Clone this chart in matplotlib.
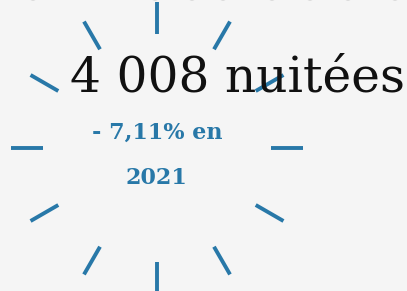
import numpy as np
import matplotlib
matplotlib.use("Agg")
import matplotlib.pyplot as plt

# Data
tick_angles_deg = list(range(0, 360, 30))   # radial tick marks (clock face)
main_value = "4 008"
main_unit = "nuitées"
change_label = "- 7,11% en"
year_label = "2021"
# top-edge partial marks (x positions of cut-off glyph bottoms)
top_marks_x = [33, 155, 192, 223, 272, 310, 348, 395]

BG = "#f5f5f5"
BLUE = "#2878a8"

W, H = 407, 291
fig = plt.figure(figsize=(W / 100, H / 100), dpi=100, facecolor=BG)
ax = fig.add_axes([0, 0, 1, 1])
ax.set_xlim(0, W)
ax.set_ylim(H, 0)
ax.axis("off")
ax.set_facecolor(BG)

cx, cy = 157, 148
r_in, r_out = 114, 146
for a in tick_angles_deg:
    t = np.deg2rad(a)
    xs = [cx + r_in * np.sin(t), cx + r_out * np.sin(t)]
    ys = [cy - r_in * np.cos(t), cy - r_out * np.cos(t)]
    ax.plot(xs, ys, color=BLUE, lw=2.8, solid_capstyle="butt", zorder=1)

for x in top_marks_x:
    ax.add_patch(matplotlib.patches.Ellipse((x, -2.0), 8, 5, color="#c4c4c4", lw=0, zorder=1))

ax.text(70, 92, f"{main_value} {main_unit}", fontsize=35, family="DejaVu Serif",
        color="#111111", ha="left", va="baseline", zorder=3)

ax.text(157, 139, change_label, fontsize=16.0, family="DejaVu Serif", weight="bold",
        color=BLUE, ha="center", va="baseline", zorder=3)
ax.text(156, 184, year_label, fontsize=16.0, family="DejaVu Serif", weight="bold",
        color=BLUE, ha="center", va="baseline", zorder=3)

fig.savefig("out.png", dpi=100, facecolor=BG)
